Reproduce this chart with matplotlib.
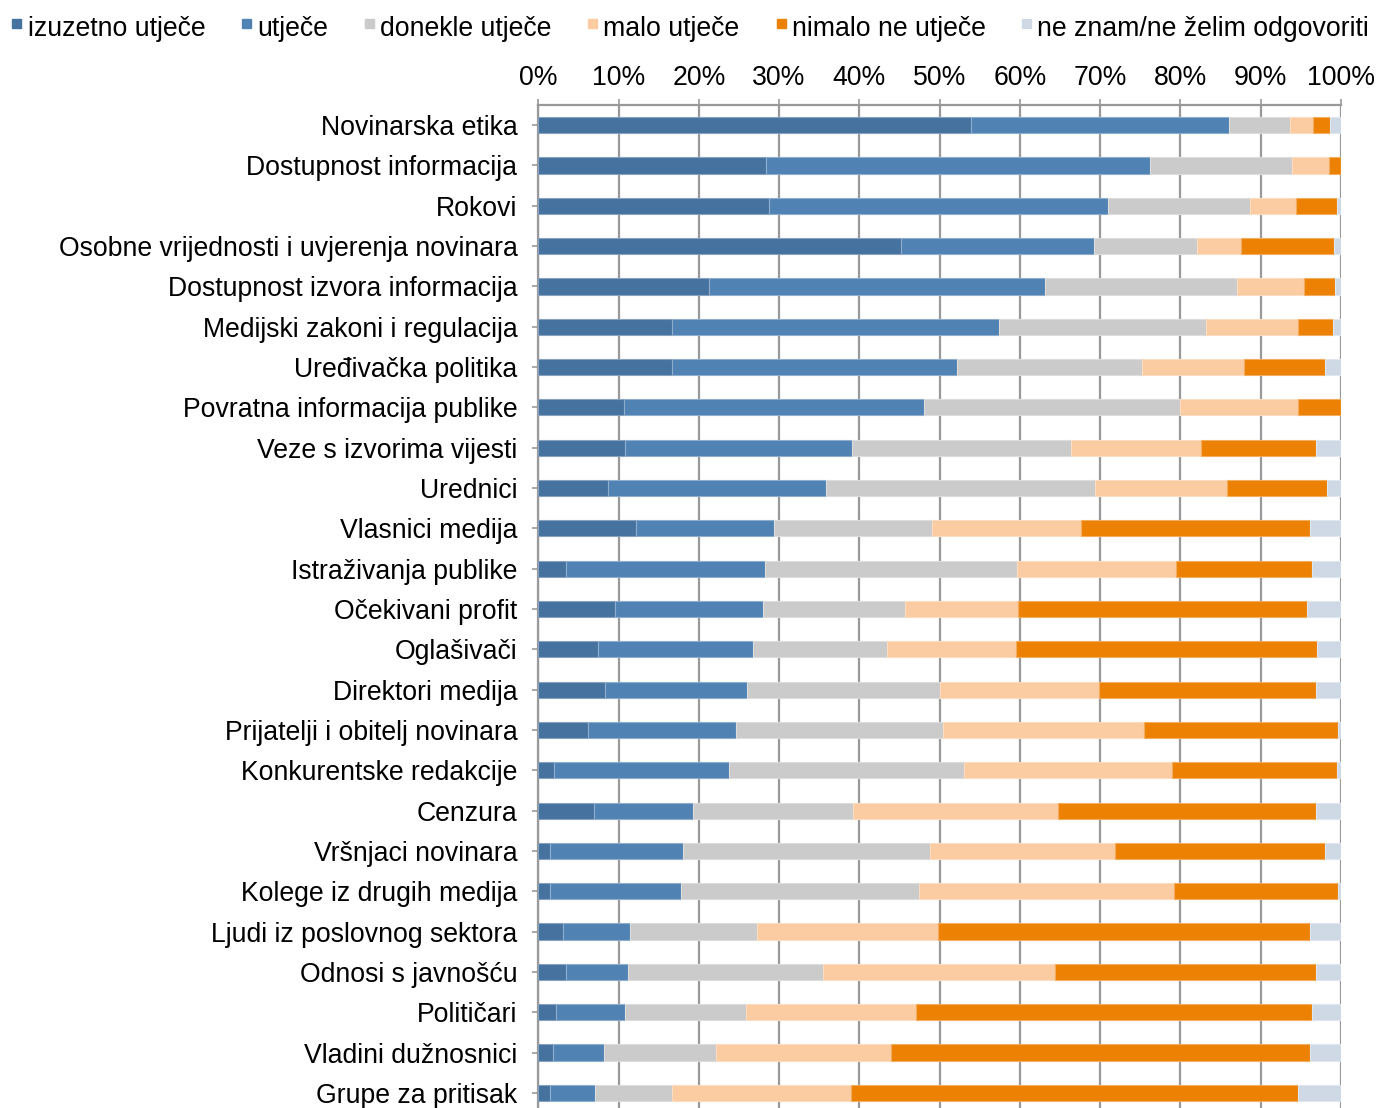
import matplotlib
matplotlib.use("Agg")
import matplotlib.pyplot as plt
from matplotlib.patches import Rectangle
from matplotlib.colors import to_rgb
import numpy as np

plt.rcParams['font.family'] = ['Liberation Sans', 'DejaVu Sans']

categories = [
    "Novinarska etika", "Dostupnost informacija", "Rokovi",
    "Osobne vrijednosti i uvjerenja novinara", "Dostupnost izvora informacija",
    "Medijski zakoni i regulacija", "Uređivačka politika",
    "Povratna informacija publike", "Veze s izvorima vijesti", "Urednici",
    "Vlasnici medija", "Istraživanja publike", "Očekivani profit",
    "Oglašivači", "Direktori medija", "Prijatelji i obitelj novinara",
    "Konkurentske redakcije", "Cenzura", "Vršnjaci novinara",
    "Kolege iz drugih medija", "Ljudi iz poslovnog sektora",
    "Odnosi s javnošću", "Političari", "Vladini dužnosnici",
    "Grupe za pritisak",
]

series_names = ["izuzetno utječe", "utječe", "donekle utječe",
                "malo utječe", "nimalo ne utječe", "ne znam/ne želim odgovoriti"]

izuzetno = [53.9, 28.4, 28.8, 45.2, 21.3, 16.6, 16.6, 10.7, 10.8, 8.7,
            12.2, 3.5, 9.6, 7.4, 8.3, 6.2, 2.0, 6.9, 1.4, 1.4,
            3.1, 3.4, 2.2, 1.8, 1.4]
utjece = [32.1, 47.8, 42.2, 24.0, 41.8, 40.8, 35.5, 37.3, 28.3, 27.2,
          17.2, 24.7, 18.4, 19.3, 17.7, 18.4, 21.8, 12.4, 16.6, 16.4,
          8.3, 7.8, 8.6, 6.4, 5.7]
donekle = [7.7, 17.7, 17.7, 12.8, 23.9, 25.8, 23.1, 32.0, 27.3, 33.5,
           19.6, 31.4, 17.7, 16.7, 24.0, 25.8, 29.2, 19.9, 30.8, 29.6,
           15.9, 24.3, 15.1, 13.9, 9.6]
malo = [2.8, 4.6, 5.7, 5.5, 8.4, 11.5, 12.7, 14.7, 16.2, 16.4,
        18.6, 19.8, 14.1, 16.1, 19.8, 25.1, 25.9, 25.6, 23.1, 31.8,
        22.5, 28.9, 21.2, 21.8, 22.2]
nimalo = [2.1, 1.5, 5.1, 11.6, 3.8, 4.3, 10.1, 5.3, 14.3, 12.4,
          28.5, 17.0, 36.0, 37.5, 27.1, 24.1, 20.6, 32.1, 26.1, 20.4,
          46.3, 32.5, 49.3, 52.2, 55.7]
ne_znam = [1.4, 0.0, 0.5, 0.9, 0.8, 1.0, 2.0, 0.0, 3.1, 1.8,
           3.9, 3.6, 4.2, 3.0, 3.1, 0.4, 0.5, 3.1, 2.0, 0.4,
           3.9, 3.1, 3.6, 3.9, 5.4]

x_ticks = [0, 10, 20, 30, 40, 50, 60, 70, 80, 90, 100]
x_tick_labels = ["0%", "10%", "20%", "30%", "40%", "50%", "60%", "70%", "80%", "90%", "100%"]

colors = ["#46729F", "#5082B3", "#CBCBCB", "#FBCBA1", "#EC8104", "#CFD8E5"]

W, H = 1379, 1108
fig = plt.figure(figsize=(W / 100, H / 100), dpi=100)

def fx(px):
    return px / W

def fy(py):
    return 1 - py / H

FS = 19.2

ax_left, ax_right = 538.3, 1341.0
ax_top, ax_bottom = 105.0, 1113.0
ax = fig.add_axes([fx(ax_left), fy(ax_bottom), fx(ax_right - ax_left),
                   (ax_bottom - ax_top) / H])

data = [izuzetno, utjece, donekle, malo, nimalo, ne_znam]
y = np.arange(len(categories))
left = np.zeros(len(categories))
for vals, c in zip(data, colors):
    vals = np.array(vals)
    rgb = np.array(to_rgb(c))
    edge = tuple(rgb + (1 - rgb) * 0.35)
    ax.barh(y, vals, left=left, height=0.4, color=c, edgecolor=edge,
            linewidth=0.8, zorder=3)
    left += vals

ax.set_ylim(len(categories) - 0.5, -0.5)
ax.set_xlim(0, 100)
ax.set_yticks(y)
ax.set_yticklabels(categories, fontsize=FS)
ax.set_xticks(x_ticks)
ax.set_xticklabels(x_tick_labels, fontsize=FS)
ax.xaxis.tick_top()
ax.tick_params(axis='x', direction='out', length=4, width=1.2, color='#999999',
               pad=6)
ax.tick_params(axis='y', direction='out', length=4, width=1.2, color='#999999',
               pad=11)
ax.grid(axis='x', color='#999999', linewidth=1.6, zorder=0)
ax.set_axisbelow(True)
for s in ['top', 'left']:
    ax.spines[s].set_color('#999999')
    ax.spines[s].set_linewidth(1.6)
for s in ['right', 'bottom']:
    ax.spines[s].set_visible(False)

# legend drawn across the top
sq_x = [12, 242, 365, 588, 777, 1022]
txt_x = [28, 257, 380, 603, 792, 1037]
for name, c, sx, tx in zip(series_names, colors, sq_x, txt_x):
    fig.patches.append(Rectangle((fx(sx), fy(28)), fx(9), 9 / H, color=c,
                                 transform=fig.transFigure, figure=fig))
    fig.text(fx(tx), fy(35.5), name, fontsize=FS, va='baseline', ha='left')

fig.savefig("out.png", dpi=100)
